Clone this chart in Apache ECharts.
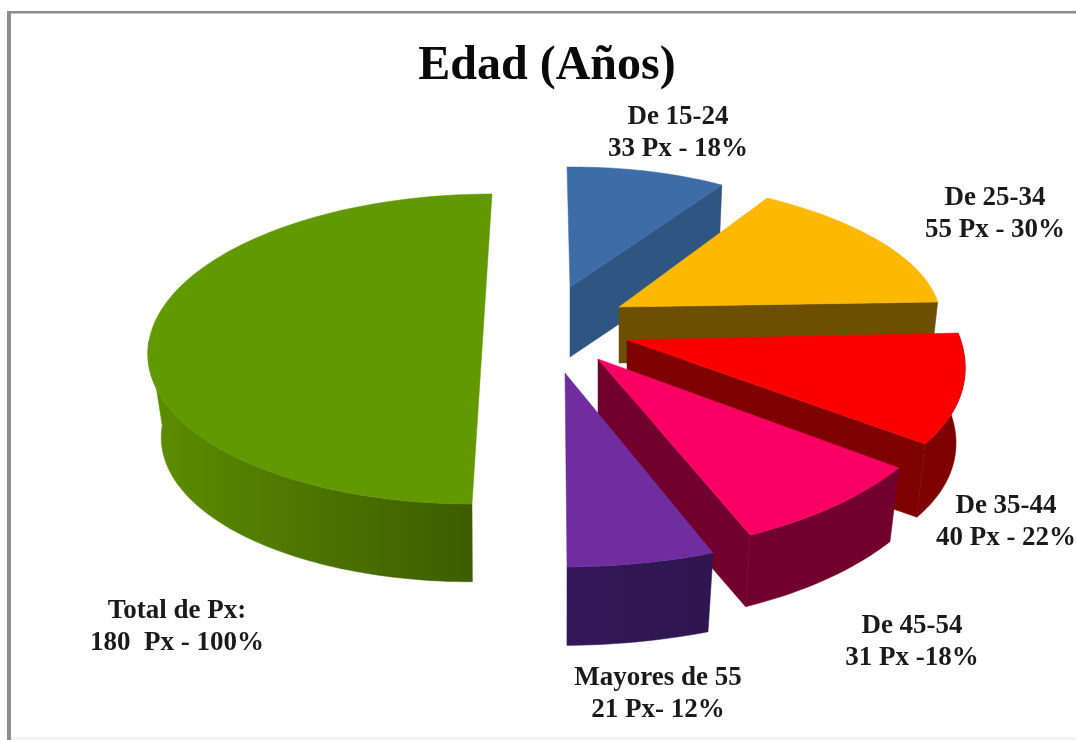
<!DOCTYPE html>
<html>
<head>
<meta charset="utf-8">
<style>html,body{margin:0;padding:0;background:#fff}#chart{width:1076px;height:740px}</style>
<script src="https://cdn.jsdelivr.net/npm/echarts@6/dist/echarts.min.js"></script>
</head>
<body>
<div id="chart"></div>
<script>
// Patients by age band, plus the total shown as the opposite half of the pie.
const categories = ['De 15-24', 'De 25-34', 'De 35-44', 'De 45-54', 'Mayores de 55', 'Total de Px:'];
const patients = [33, 55, 40, 31, 21, 180];
const captions = ['33 Px - 18%', '55 Px - 30%', '40 Px - 22%', '31 Px -18%', '21 Px- 12%', '180  Px - 100%'];

const topColors = ['#3d6ca6', '#fdb800', '#fb0000', '#fb0064', '#6f2da0', '#629800'];
const wallColors = [
  ['#2f5583', '#2f5583'], ['#6c4f00', '#6c4f00'], ['#7e0000', '#7e0000'],
  ['#72002d', '#72002d'], ['#34175a', '#2e1650'], ['#5c8e00', '#3d5c00']
];

// Per-slice projection of the unit sector onto the page: apex position, 2x2 matrix,
// extrusion depth, base shrink (the base recedes from the viewer) and whether the cut face shows.
const projections = [
  { ox: 570, oy: 287, m: [283.5, -3, -2.4, -120], depth: 70, shrink: 0.98, cut: true },
  { ox: 619, oy: 307, m: [320, -31, -0.5, -129.6], depth: 56, shrink: 0.98, cut: true },
  { ox: 627, oy: 340, m: [333.3, -57.3, -1, -170.2], depth: 76, shrink: 0.973, cut: true },
  { ox: 598, oy: 359, m: [363.8, -23.3, -12.9, -193.4], depth: 77, shrink: 0.97, cut: true },
  { ox: 565, oy: 373, m: [408, -2, -3.3, -194], depth: 85, shrink: 0.966, cut: false },
  { ox: 482, oy: 349, m: [334, 10, 0, -155], depth: 84, shrink: 0.96, cut: false }
];
const labelAnchors = [[678, 133], [995, 214], [1006, 522], [912, 642], [658, 694], [177, 627]];

const total = patients.reduce((s, v) => s + v, 0);
let running = 0;
const sliceData = patients.map((v, i) => {
  const row = [v, running, i];
  running += v;
  return row;
});

function renderSlice(params, api) {
  const i = api.value(2);
  const p = projections[i];
  const start = api.value(1) / total * Math.PI * 2;
  const sweep = api.value(0) / total * Math.PI * 2;
  const at = (t) => {
    const u = Math.sin(t), v = Math.cos(t);
    return [p.ox + p.m[0] * u + p.m[1] * v, p.oy + p.m[2] * u + p.m[3] * v];
  };
  const steps = Math.max(12, Math.round(sweep * 40));
  const arc = [];
  const frontArc = [];
  for (let k = 0; k <= steps; k++) {
    const t = start + sweep * k / steps;
    arc.push(at(t));
    // Only the half of the rim that faces the viewer shows a wall.
    if (Math.cos(t) <= 0.05) frontArc.push(at(t));
  }
  const apex = [p.ox, p.oy];
  const drop = (q) => [
    p.ox + (q[0] - p.ox) * p.shrink,
    p.oy + (q[1] - p.oy) * p.shrink + p.depth
  ];
  const wallFill = {
    type: 'linear', x: 0, y: 0, x2: 1, y2: 0,
    colorStops: [{ offset: 0, color: wallColors[i][0] }, { offset: 1, color: wallColors[i][1] }]
  };
  const flatWall = wallColors[i][1];
  const poly = (points, fill) => ({
    type: 'polygon', shape: { points }, style: { fill, stroke: fill, lineWidth: 0.5 }, silent: true
  });
  const last = arc[arc.length - 1];
  const children = [];
  if (frontArc.length > 1) {
    children.push(poly(frontArc.concat(frontArc.slice().reverse().map(drop)), wallFill));
  }
  if (p.cut) children.push(poly([apex, last, drop(last), drop(apex)], flatWall));
  children.push(poly([apex].concat(arc), topColors[i]));
  children.push({
    type: 'text',
    style: {
      x: labelAnchors[i][0], y: labelAnchors[i][1],
      text: categories[i] + '\n' + captions[i],
      font: 'bold 27px "Liberation Serif", serif',
      lineHeight: 32, fill: '#1a1a1a', align: 'center', verticalAlign: 'middle'
    },
    silent: true
  });
  return { type: 'group', children };
}

const chart = echarts.init(document.getElementById('chart'), null, { renderer: 'canvas' });
chart.setOption({
  animation: false,
  backgroundColor: '#ffffff',
  title: {
    text: 'Edad (Años)',
    left: 542, top: 38, textAlign: 'center',
    textStyle: { fontFamily: '"Liberation Serif", serif', fontWeight: 'bold', fontSize: 48, color: '#0a0a0a' }
  },
  graphic: [
    { type: 'rect', shape: { x: 7, y: 11, width: 4, height: 729 }, style: { fill: '#8c8c8c' }, silent: true },
    { type: 'rect', shape: { x: 7, y: 11, width: 1069, height: 2.5 }, style: { fill: '#8c8c8c' }, silent: true },
    { type: 'rect', shape: { x: 11, y: 737, width: 1065, height: 3 }, style: { fill: '#f3f3f3' }, silent: true }
  ],
  series: [{
    type: 'custom',
    coordinateSystem: 'none',
    renderItem: renderSlice,
    data: sliceData,
    silent: true
  }]
});
</script>
</body>
</html>
